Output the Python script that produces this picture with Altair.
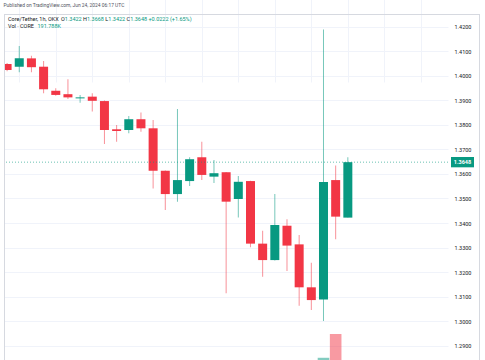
import altair as alt
import pandas as pd

# ---- data ----
idx = list(range(29))
opens = [1.4048, 1.4037, 1.4071, 1.4037, 1.3939, 1.3925, 1.3908, 1.3915, 1.3897, 1.3782,
         1.3779, 1.3823, 1.3786, 1.3613, 1.3518, 1.3571, 1.3668, 1.3589, 1.3607, 1.3498,
         1.3571, 1.3316, 1.3249, 1.3389, 1.3313, 1.3138, 1.3088, 1.3575, 1.3422]
highs = [1.4052, 1.4121, 1.4082, 1.4060, 1.3949, 1.3986, 1.3922, 1.3929, 1.3899, 1.3799,
         1.3836, 1.3850, 1.3820, 1.3614, 1.3865, 1.3668, 1.3731, 1.3657, 1.3608, 1.3592,
         1.3572, 1.3369, 1.3518, 1.3415, 1.3351, 1.3238, 1.4189, 1.3634, 1.3668]
lows = [1.4019, 1.4014, 1.4014, 1.3929, 1.3919, 1.3905, 1.3890, 1.3854, 1.3722, 1.3731,
        1.3766, 1.3772, 1.3541, 1.3453, 1.3487, 1.3551, 1.3575, 1.3563, 1.3114, 1.3422,
        1.3301, 1.3181, 1.3247, 1.3204, 1.3063, 1.3046, 1.3001, 1.3334, 1.3422]
closes = [1.4024, 1.4071, 1.4035, 1.3945, 1.3922, 1.3912, 1.3912, 1.3898, 1.3779, 1.3775,
          1.3823, 1.3786, 1.3613, 1.3518, 1.3575, 1.3660, 1.3596, 1.3603, 1.3487, 1.3568,
          1.3316, 1.3249, 1.3392, 1.3308, 1.3138, 1.3086, 1.3567, 1.3426, 1.3648]
volumes = [120e3, 150e3, 110e3, 260e3, 90e3, 140e3, 70e3, 130e3, 310e3, 100e3,
           120e3, 95e3, 380e3, 290e3, 420e3, 260e3, 180e3, 90e3, 450e3, 210e3,
           360e3, 240e3, 330e3, 200e3, 410e3, 280e3, 1010e3, 2090e3, 191788]
price_ticks = [1.29, 1.30, 1.31, 1.32, 1.33, 1.34, 1.35, 1.36, 1.37, 1.38, 1.39, 1.40, 1.41, 1.42]
time_grid = [1, 4, 7, 10, 13, 16, 19, 22, 25, 28, 31, 34]

UP = "#089981"
DOWN = "#F23645"
FONT = "Roboto"
DARK = "#131722"

df = pd.DataFrame({"i": idx, "open": opens, "high": highs, "low": lows,
                   "close": closes, "vol": volumes})
df["dir"] = ["up" if c >= o else "down" for o, c in zip(opens, closes)]

last = pd.DataFrame({"close": [closes[-1]]})

W, H = 444, 346

xscale = alt.Scale(domain=[0.157, 35.82], nice=False, zero=False)
yscale = alt.Scale(domain=[1.28418, 1.42518], nice=False, zero=False)
color = alt.Color("dir:N", scale=alt.Scale(domain=["up", "down"], range=[UP, DOWN]), legend=None)

xaxis = alt.Axis(values=time_grid, grid=True, gridColor="#f0f3fa", labels=False,
                 ticks=False, domain=False, title=None)
yaxis = alt.Axis(orient="right", values=price_ticks, format=".4f", grid=True,
                 gridColor="#f0f3fa", ticks=False, domain=False, labelPadding=6,
                 labelFontSize=5.5, labelColor="#131722", labelFont=FONT, title=None)

base = alt.Chart(df)

wicks = base.mark_bar(size=1, clip=True, opacity=0.55).encode(
    x=alt.X("i:Q", scale=xscale, axis=xaxis),
    y=alt.Y("low:Q", scale=yscale, axis=yaxis),
    y2="high:Q",
    color=color,
)

bodies = base.mark_bar(size=9, clip=True).encode(
    x=alt.X("i:Q", scale=xscale, axis=xaxis),
    y=alt.Y("open:Q", scale=yscale, axis=yaxis),
    y2="close:Q",
    color=color,
)

price_line = alt.Chart(last).mark_rule(color=UP, strokeDash=[1, 2], strokeWidth=1, opacity=0.6).encode(
    y=alt.Y("close:Q", scale=yscale, axis=yaxis)
)

label_box = alt.Chart(last).transform_calculate(
    top="datum.close + 0.0021", bot="datum.close - 0.0021"
).mark_rect(color=UP, clip=False).encode(
    x=alt.value(447), x2=alt.value(470),
    y=alt.Y("top:Q", scale=yscale, axis=yaxis), y2="bot:Q",
)

label_text = alt.Chart(last).mark_text(color="white", fontSize=5.5, fontWeight="bold",
                                       font=FONT, align="center", baseline="middle").encode(
    x=alt.value(458.5),
    y=alt.Y("close:Q", scale=yscale, axis=yaxis),
    text=alt.Text("close:Q", format=".4f"),
)

price_layer = alt.layer(wicks, bodies, price_line, label_box, label_text)

vol = base.mark_bar(size=11.6, opacity=0.5, clip=True).encode(
    x=alt.X("i:Q", scale=xscale, axis=xaxis),
    y=alt.Y("vol:Q", scale=alt.Scale(domain=[0, 4e6], range=[366, 278]), axis=None),
    color=color,
)

one = pd.DataFrame({"a": [0]})
BORDER = "#d6d9e0"
frame_top = alt.Chart(one).mark_rule(color=BORDER, strokeWidth=1).encode(
    x=alt.value(0), x2=alt.value(475), y=alt.value(0.5))
frame_left = alt.Chart(one).mark_rule(color=BORDER, strokeWidth=1).encode(
    x=alt.value(0.5), y=alt.value(0), y2=alt.value(400))
frame_right = alt.Chart(one).mark_rule(color=BORDER, strokeWidth=1).encode(
    x=alt.value(475.5), y=alt.value(0), y2=alt.value(400))


def txt(s, x, y, col, size=5.5, weight="normal"):
    return alt.Chart(one).mark_text(text=s, color=col, fontSize=size, font=FONT, align="left",
                                    baseline="middle", fontWeight=weight).encode(
        x=alt.value(x), y=alt.value(y))


L1 = 4.5
texts = [
    txt("Published on TradingView.com, Jun 24, 2024 06:17 UTC", -0.5, -8, "#50535e", 4.9),
    txt("Core/Tether, 1h, OKX", 4, L1, DARK),
    txt("O", 57, L1, DARK), txt(f"{opens[-1]:.4f}", 60.8, L1, UP),
    txt("H", 79.1, L1, DARK), txt(f"{highs[-1]:.4f}", 83, L1, UP),
    txt("L", 101.3, L1, DARK), txt(f"{lows[-1]:.4f}", 104.3, L1, UP),
    txt("C", 122.6, L1, DARK), txt(f"{closes[-1]:.4f}", 126.2, L1, UP),
    txt("+0.0222 (+1.65%)", 144.5, L1, UP),
    txt("Vol · CORE", 4, 11.5, DARK),
    txt("191.788K", 33.5, 11.5, UP),
]

chart = alt.layer(vol, price_layer, frame_top, frame_left, frame_right, *texts).resolve_scale(
    y="independent"
).properties(
    width=W, height=H,
    padding={"left": 4, "top": 14, "right": 37, "bottom": 0},
    autosize="none",
    background="white",
).configure_view(stroke=None)

chart.save("out.html", embed_options={"renderer": "svg", "actions": False})
